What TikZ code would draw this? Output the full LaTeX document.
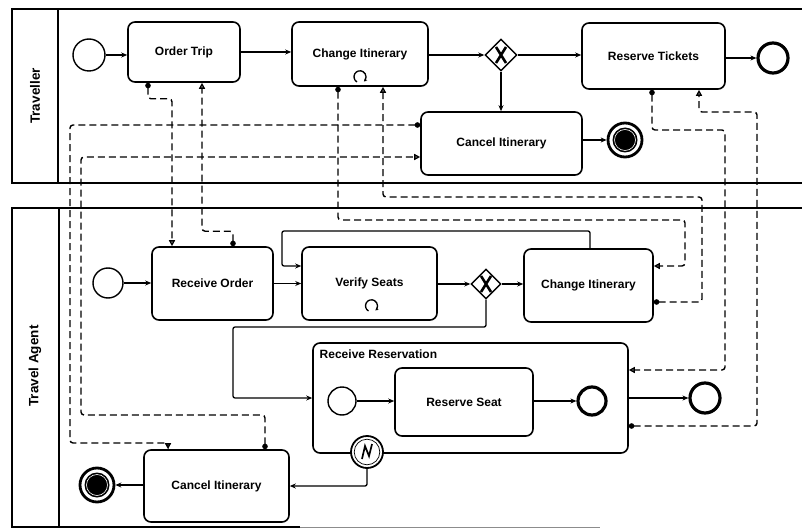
\documentclass[tikz,border=0pt]{standalone}
\usepackage{fontspec}
\setmainfont{Liberation Sans}
\usetikzlibrary{arrows.meta,shapes.geometric,calc}
\begin{document}
\begin{tikzpicture}[x=1pt,y=-1pt,
  every node/.style={font=\fontsize{12}{14}\selectfont\bfseries},
  task/.style={draw,line width=1.6pt,rounded corners=7pt,align=center,inner sep=0pt},
  startev/.style={draw,circle,line width=1.4pt,inner sep=0pt,fill=white},
  endev/.style={draw,circle,line width=3.2pt,inner sep=0pt,fill=white},
  termev/.style={draw,circle,line width=2.8pt,inner sep=0pt,minimum size=34pt},
  gate/.style={draw,diamond,aspect=1,line width=1.4pt,inner sep=0pt,minimum size=32pt,fill=white},
  pool/.style={line width=1.7pt},
  seq/.style={line width=1.3pt,-{Stealth[length=6pt,width=5pt]}},
  seqp/.style={line width=1.3pt,rounded corners=2pt,-{Stealth[length=6pt,width=5pt]}},
  msg/.style={line width=1.4pt,dash pattern=on 7pt off 4pt,rounded corners=3pt,
              {Circle[length=5.5pt]}-{Triangle[open,length=6pt,width=6pt]}},
  loopm/.style={line width=1.3pt,-{Stealth[length=3pt,width=3.5pt]}},
  xmark/.style={line width=2.6pt},
  poollabel/.style={rotate=90,font=\fontsize{13.5}{15}\selectfont\bfseries}
]
\useasboundingbox (0,0) rectangle (802,529);

% ---------- pools ----------
\draw[pool] (802,9) -- (12,9) -- (12,183) -- (802,183);
\draw[pool] (58,9) -- (58,183);
\draw[pool] (802,208) -- (12,208) -- (12,527) -- (300,527);
\draw[line width=0.6pt,black!45] (300,527) -- (600,527);
\draw[pool] (59,208) -- (59,527);
\node[poollabel] (lblT) at (35,96) {Traveller};
\node[poollabel] (lblA) at (35,366) {Travel Agent};

% ---------- Traveller lane ----------
\node[startev,minimum size=32pt] (s1) at (89,55) {};
\node[task,minimum width=112pt,minimum height=60pt] (ot) at (184,52) {Order Trip};
\node[task,minimum width=136pt,minimum height=64pt] (ci1) at (360,54) {Change Itinerary};
\node[gate] (g1) at (501,55) {};
\node[task,minimum width=143pt,minimum height=66pt] (rt) at (653.5,56) {Reserve Tickets};
\node[endev,minimum size=30pt] (e1) at (773,58) {};
\node[task,minimum width=161pt,minimum height=63pt] (cn1) at (501.5,143.5) {Cancel Itinerary};
\node[termev] (t1) at (625,140) {};
\fill (t1) circle (12.5);
\draw[white,line width=0.6pt] (t1) circle (10.5);

% ---------- Travel Agent lane ----------
\node[task,minimum width=315pt,minimum height=110pt] (sub) at (470.5,398) {};
\node[anchor=north west] (sublbl) at ([xshift=4pt,yshift=-4pt]sub.north west) {Receive Reservation};
\node[startev,minimum size=30pt] (s2) at (108,283) {};
\node[task,minimum width=121pt,minimum height=73pt] (ro) at (212.5,283.5) {Receive Order};
\node[task,minimum width=135pt,minimum height=73pt] (vs) at (369.5,283.5) {Verify Seats};
\node[gate,minimum size=30pt] (g2) at (486,284) {};
\node[task,minimum width=129pt,minimum height=73pt] (ci2) at (588.5,285.5) {Change Itinerary};
\node[startev,minimum size=28pt] (s3) at (342,401) {};
\node[task,minimum width=138pt,minimum height=68pt] (rs) at (464,402) {Reserve Seat};
\node[endev,minimum size=28pt] (e3) at (592,401) {};
\node[endev,minimum size=30pt] (e2) at (705,398) {};
\node[draw,circle,line width=1.8pt,fill=white,minimum size=32pt,inner sep=0pt] (err) at (367,452) {};
\draw[line width=0.7pt] (err) circle (12.8);
\draw[line width=1.7pt,line join=miter] ($(err)+(-5,7)$) -- ($(err)+(-2,-6)$) -- ($(err)+(2,4)$) -- ($(err)+(5,-8)$);
\node[task,minimum width=145pt,minimum height=72pt] (cn2) at (216.5,486) {Cancel Itinerary};
\node[termev] (t2) at (97,485) {};
\fill (t2) circle (12.5);
\draw[white,line width=0.6pt] (t2) circle (10.5);

% gateway X markers
\draw[xmark] ($(g1)+(-5,-8)$) -- ($(g1)+(5,8)$) ($(g1)+(5,-8)$) -- ($(g1)+(-5,8)$);
\draw[xmark] ($(g2)+(-5,-8)$) -- ($(g2)+(5,8)$) ($(g2)+(5,-8)$) -- ($(g2)+(-5,8)$);

% loop markers
\draw[loopm] ($(ci1.south)+(0,-10)$) ++(120:6) arc[start angle=120,end angle=410,radius=6];
\draw[loopm] ($(vs.south)+(2,-15)$) ++(120:6) arc[start angle=120,end angle=410,radius=6];

% ---------- sequence flows ----------
\draw[seq] (s1.east) -- (s1.east -| ot.west);
\draw[seq] (ot.east) -- (ot.east -| ci1.west);
\draw[seq] (ci1.east |- g1) -- (g1.west);
\draw[seq] (g1.east) -- (g1.east -| rt.west);
\draw[seq] (rt.east |- e1) -- (e1.west);
\draw[seq] (g1.south) -- (g1.south |- cn1.north);
\draw[seq] (cn1.east |- t1) -- (t1.west);

\draw[seq] (s2.east) -- (s2.east -| ro.west);
\draw[seq] (ro.east) -- (ro.east -| vs.west);
\draw[seq] (vs.east |- g2) -- (g2.west);
\draw[seq] (g2.east) -- (g2.east -| ci2.west);
\draw[seqp] ([xshift=1.5pt]ci2.north) |- (282,231) |- ([yshift=17.5pt]vs.west);
\draw[seqp] (g2.south) |- (233,327) |- (sub.west);
\draw[seq] (s3.east) -- (s3.east -| rs.west);
\draw[seq] (rs.east |- e3) -- (e3.west);
\draw[seq] (sub.east |- e2) -- (e2.west);
\draw[seqp] (err.south) |- (cn2.east);
\draw[seq] (cn2.west |- t2) -- (t2.east);

% ---------- message flows ----------
\draw[msg] ([xshift=-36pt]ot.south) -- ++(0,16) -| ([xshift=-40.5pt]ro.north);
\draw[msg] ([xshift=20.5pt]ro.north) -- ++(0,-15) -| ([xshift=18pt]ot.south);
\draw[msg] ([yshift=18.5pt]cn1.west) -| (70,443) -| ([xshift=-48.5pt]cn2.north);
\draw[msg] ([xshift=48.5pt]cn2.north) |- (81,415) |- ([yshift=-13.5pt]cn1.west);
\draw[msg] ([xshift=-22pt]ci1.south) |- (685,220) |- ([yshift=19.5pt]ci2.east);
\draw[msg] ([yshift=-16.5pt]ci2.east) -| (702,197) -| ([xshift=23pt]ci1.south);
\draw[msg] ([xshift=-1.5pt]rt.south) |- (725,130) |- ([yshift=28pt]sub.east);
\draw[msg] ([yshift=-28pt]sub.east) -| (757,112) -| ([xshift=45.5pt]rt.south);
\end{tikzpicture}
\end{document}
